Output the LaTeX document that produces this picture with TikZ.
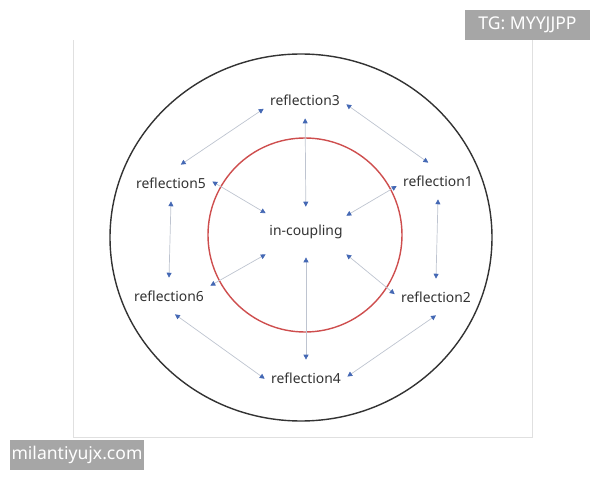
\documentclass[tikz,border=0pt]{standalone}
\usepackage{fontspec}
\setmainfont{Noto Sans}
\usepackage{tikz}
\usetikzlibrary{arrows.meta}

\definecolor{tipblue}{RGB}{68,104,180}
\definecolor{linkgray}{RGB}{190,196,208}
\definecolor{ringred}{RGB}{206,78,78}
\definecolor{markgray}{RGB}{166,166,166}

\begin{document}
\begin{tikzpicture}[
    x=0.02cm, y=-0.02cm,
    >={Triangle[length=2.8pt,width=2.8pt,color=tipblue]},
    font=\fontsize{7.9}{9}\selectfont,
    refl/.style={
        inner sep=0pt,
        text=black!80,
        minimum width=1.64cm,
        minimum height=0.72cm
    },
    hub/.style={
        inner sep=0pt,
        text=black!80,
        minimum width=1.6cm,
        minimum height=1.0cm
    },
    link/.style={
        <->,
        draw=linkgray,
        line width=0.4pt
    },
    stamp/.style={
        fill=markgray,
        text=white,
        inner sep=0pt,
        font=\fontsize{10}{12}\selectfont
    }
]
\useasboundingbox (0,0) rectangle (600,480);

\draw[black!12, line width=0.5pt] (73,40) -- (73,437) -- (532,437) -- (532,40);

\draw[black!80, line width=0.8pt] (301,237.5) ellipse [x radius=191, y radius=183.5];
\draw[ringred, line width=0.8pt] (305,235) circle [radius=97];

\node[hub] (inc) at (306,232) {in-coupling};
\node[refl] (r3) at (305,100) {reflection3};
\node[refl] (r5) at (171,183) {reflection5};
\node[refl] (r1) at (438,181) {reflection1};
\node[refl] (r6) at (169,296) {reflection6};
\node[refl] (r2) at (436,297) {reflection2};
\node[refl] (r4) at (306,378) {reflection4};

\draw[link] (r3.192) -- (r5.62);
\draw[link] (r3.354) -- (r1.118);
\draw[link] (r3) -- (inc);
\draw[link] (r5.2) -- (inc.155);
\draw[link] (r1.187) -- (inc.22);
\draw[link] (r1.south) -- (r2.north);
\draw[link] (r5.south) -- (r6.north);
\draw[link] (r6.14) -- (inc.209);
\draw[link] (r2.176) -- (inc.331);
\draw[link] (inc) -- (r4);
\draw[link] (r6.288) -- (r4.181);
\draw[link] (r2.south) -- (r4.2);

\node[stamp, minimum width=2.5cm, minimum height=0.6cm] (tg) at (527.5,25) {TG: MYYJJPP};
\node[stamp, minimum width=2.68cm, minimum height=0.6cm] (site) at (77,455) {milantiyujx.com};

\end{tikzpicture}
\end{document}
